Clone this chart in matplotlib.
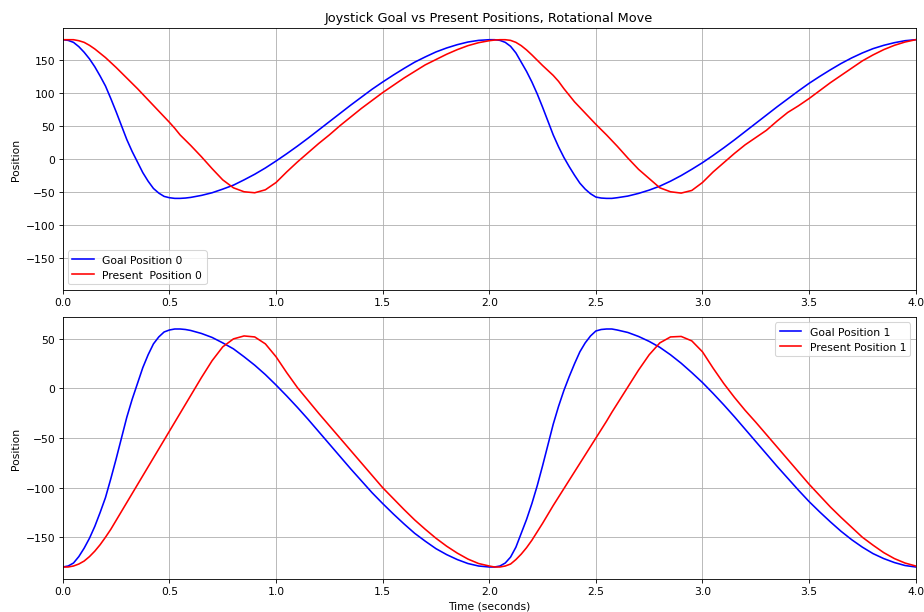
#!/usr/bin/env python3
"""
Joystick goal vs present positions for a rotational move (two servos).
"""

import matplotlib
matplotlib.use('Agg')
import matplotlib.pyplot as plt

# sample times (s); finer sampling during the fast moves
time_s = [
    0.000, 0.025, 0.050, 0.075, 0.100, 0.125, 0.150, 0.175, 0.200, 0.225,
    0.250, 0.275, 0.300, 0.325, 0.350, 0.375, 0.400, 0.425, 0.450, 0.475,
    0.500, 0.525, 0.550, 0.575, 0.600,
    0.65, 0.70, 0.75, 0.80, 0.85, 0.90, 0.95, 1.00, 1.05, 1.10,
    1.15, 1.20, 1.25, 1.30, 1.35, 1.40, 1.45, 1.50, 1.55, 1.60,
    1.65, 1.70, 1.75, 1.80, 1.85, 1.90, 1.95,
    2.000, 2.025, 2.050, 2.075, 2.100, 2.125, 2.150, 2.175, 2.200, 2.225,
    2.250, 2.275, 2.300, 2.325, 2.350, 2.375, 2.400, 2.425, 2.450, 2.475,
    2.500, 2.525, 2.550, 2.575, 2.600,
    2.65, 2.70, 2.75, 2.80, 2.85, 2.90, 2.95, 3.00, 3.05, 3.10,
    3.15, 3.20, 3.25, 3.30, 3.35, 3.40, 3.45, 3.50, 3.55, 3.60,
    3.65, 3.70, 3.75, 3.80, 3.85, 3.90, 3.95, 4.00,
]

goal_0 = [
    180, 179, 176, 169.5, 161, 151, 139, 125, 110, 91,
    71, 50, 29, 11, -5, -21, -34, -45, -52, -57,
    -59, -60, -60, -59.5, -58.5,
    -55.5, -51.5, -46, -40, -32, -23.5, -14, -3.5, 7.5, 19,
    31, 43.5, 56, 68.5, 81, 93, 105, 116, 126.5, 136.5,
    146, 154, 161.5, 167.5, 172.5, 176.5, 179,
    180, 180, 179, 176, 170, 160, 146, 132, 116, 98,
    78, 57, 36, 18, 2, -12, -25, -37, -46, -53,
    -58, -59.5, -60, -60, -59,
    -56.5, -52.5, -47.5, -41.5, -34, -25.5, -16, -6, 5, 16.5,
    28.5, 41, 53.5, 66, 78.5, 90.5, 102.5, 114, 124.5, 134.5,
    144, 152.5, 160, 166.5, 171.5, 175.5, 178.5, 180,
]

present_0 = [
    180, 180, 180, 178.5, 176, 171.5, 166, 159.5, 153, 145.5,
    138, 130, 122, 114, 106, 97.5, 89, 80.5, 72, 63.5,
    55, 46, 36, 28, 20,
    3, -15, -32, -44, -50, -51.5, -47, -36, -20, -5,
    9, 23, 36, 50, 63, 76, 88, 100, 111, 122,
    132, 142, 150, 158, 165, 171, 175.5,
    178.5, 179.5, 180, 180, 179, 176, 171, 164.5, 157, 149,
    141, 133.5, 126, 117, 106, 96, 86, 77.5, 69, 60.5,
    52, 44, 36, 27.5, 19,
    1, -16, -30, -44, -50, -52, -48, -36, -20, -6,
    8, 21, 32, 43, 57, 70, 80, 91, 103, 115,
    126, 137, 148, 157, 165, 171.5, 176.5, 180,
]

goal_1 = [
    -180, -179, -176, -169.5, -161, -151, -139, -125, -110, -91,
    -71, -50, -29, -11, 5, 21, 34, 45, 52, 57,
    59, 60, 60, 59.5, 58.5,
    55.5, 51.5, 46, 40, 32, 23.5, 14, 3.5, -7.5, -19,
    -31, -43.5, -56, -68.5, -81, -93, -105, -116, -126.5, -136.5,
    -146, -154, -161.5, -167.5, -172.5, -176.5, -179,
    -180, -180, -179, -176, -170, -160, -146, -132, -116, -98,
    -78, -57, -36, -18, -2, 12, 25, 37, 46, 53,
    58, 59.5, 60, 60, 59,
    56.5, 52.5, 47.5, 41.5, 34, 25.5, 16, 6, -5, -16.5,
    -28.5, -41, -53.5, -66, -78.5, -90.5, -102.5, -114, -124.5, -134.5,
    -144, -152.5, -160, -166.5, -171.5, -175.5, -178.5, -180,
]

present_1 = [
    -180, -180, -179, -177, -174, -169.5, -164, -157.5, -150, -142,
    -133, -124, -115, -106, -97, -88, -79, -70, -61, -52,
    -43, -34, -25, -16, -7,
    11, 28, 42, 50, 53, 52, 45, 32, 16, 1,
    -12, -25, -37.5, -50, -62.5, -75, -87.5, -100, -111, -122,
    -132.5, -142, -151, -159, -166, -172, -176.5,
    -179, -180, -180, -179, -177, -172.5, -167, -160.5, -153, -144.5,
    -136, -127, -118, -109.5, -101, -92.5, -84, -75.5, -67, -58.5,
    -50, -41.5, -33, -24, -15.5,
    1.5, 18.5, 34, 46, 52, 52.5, 48, 37, 20.5, 5,
    -9, -22, -34, -46.5, -59, -71.5, -84, -96.5, -108, -119.5,
    -130, -140, -150, -158, -165.5, -171.5, -176, -179,
]


def main(out_file="out.png"):
    fig, (ax0, ax1) = plt.subplots(2, 1, figsize=(12, 7.961), dpi=77)
    fig.subplots_adjust(left=0.068, right=0.991, top=0.953, bottom=0.054,
                        hspace=0.105)

    ax0.plot(time_s, goal_0, color='blue', label='Goal Position 0')
    ax0.plot(time_s, present_0, color='red', label='Present  Position 0')
    ax0.set_title('Joystick Goal vs Present Positions, Rotational Move')
    ax0.set_ylabel('Position')
    ax0.set_xlim(0, 4)
    ax0.set_ylim(-198, 198)
    ax0.grid(True)
    ax0.legend(loc='lower left')

    ax1.plot(time_s, goal_1, color='blue', label='Goal Position 1')
    ax1.plot(time_s, present_1, color='red', label='Present Position 1')
    ax1.set_xlabel('Time (seconds)')
    ax1.set_ylabel('Position')
    ax1.set_xlim(0, 4)
    ax1.grid(True)
    ax1.legend(loc='upper right')

    fig.savefig(out_file, dpi=77)
    plt.close(fig)


if __name__ == "__main__":
    main()
